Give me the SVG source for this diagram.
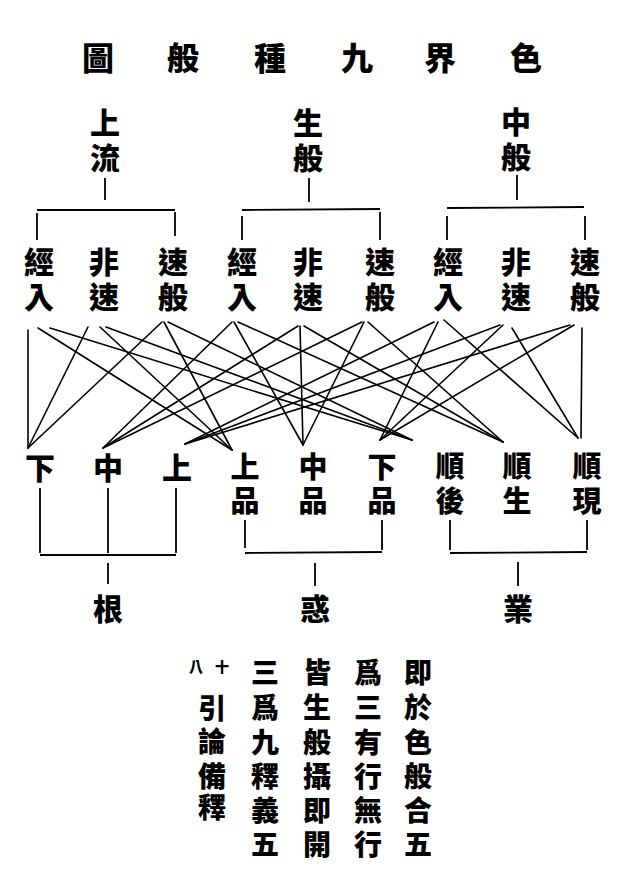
<svg xmlns="http://www.w3.org/2000/svg" width="621" height="882" viewBox="0 0 621 882">
<style>
text{font-family:"Noto Sans CJK TC","Noto Sans CJK SC",sans-serif;font-weight:900;fill:#000;text-anchor:middle}
.t{font-size:32px}
.l{font-size:30px}
.m{font-size:29px}
.v{font-size:28px}
.s{font-size:14px}
.c line{stroke:#000;stroke-width:1.6;stroke-linecap:round}
.b line{stroke:#000;stroke-width:1.8}
</style>
<rect width="621" height="882" fill="#fff"/>
<g id="title" class="t">
<text x="98" y="70">圖</text><text x="183" y="70">般</text><text x="270" y="70">種</text><text x="357" y="70">九</text><text x="440" y="70">界</text><text x="526" y="70">色</text>
</g>
<g id="shangliu" class="l"><text x="105" y="134">上</text><text x="105" y="169">流</text></g>
<g id="shengban" class="l"><text x="308" y="134">生</text><text x="308" y="169">般</text></g>
<g id="zhongban" class="l"><text x="516" y="133">中</text><text x="516" y="168">般</text></g>
<g id="t1" class="l"><text x="39" y="273">經</text><text x="39" y="308">入</text></g>
<g id="t2" class="l"><text x="104" y="273">非</text><text x="104" y="308">速</text></g>
<g id="t3" class="l"><text x="173" y="273">速</text><text x="173" y="308">般</text></g>
<g id="t4" class="l"><text x="242" y="273">經</text><text x="242" y="308">入</text></g>
<g id="t5" class="l"><text x="308" y="273">非</text><text x="308" y="308">速</text></g>
<g id="t6" class="l"><text x="380" y="273">速</text><text x="380" y="308">般</text></g>
<g id="t7" class="l"><text x="448" y="273">經</text><text x="448" y="308">入</text></g>
<g id="t8" class="l"><text x="516" y="273">非</text><text x="516" y="308">速</text></g>
<g id="t9" class="l"><text x="585" y="273">速</text><text x="585" y="308">般</text></g>
<g id="b1" class="l"><text x="40" y="479">下</text></g>
<g id="b2" class="l"><text x="108" y="479">中</text></g>
<g id="b3" class="l"><text x="177" y="479">上</text></g>
<g id="b4" class="m"><text x="245" y="478">上</text><text x="245" y="512">品</text></g>
<g id="b5" class="m"><text x="313" y="478">中</text><text x="313" y="512">品</text></g>
<g id="b6" class="m"><text x="382" y="478">下</text><text x="382" y="512">品</text></g>
<g id="b7" class="m"><text x="450" y="477">順</text><text x="450" y="512">後</text></g>
<g id="b8" class="m"><text x="517" y="477">順</text><text x="517" y="512">生</text></g>
<g id="b9" class="m"><text x="587" y="477">順</text><text x="587" y="512">現</text></g>
<g id="gen" class="l"><text x="108" y="620">根</text></g>
<g id="huo" class="l"><text x="315" y="620">惑</text></g>
<g id="ye" class="l"><text x="518" y="620">業</text></g>
<g id="note" class="v">
<text x="418" y="683">即</text><text x="418" y="718">於</text><text x="418" y="753">色</text><text x="418" y="787">般</text><text x="418" y="821">合</text><text x="418" y="855">五</text>
<text x="368" y="683">爲</text><text x="368" y="718">三</text><text x="368" y="753">有</text><text x="368" y="787">行</text><text x="368" y="821">無</text><text x="368" y="855">行</text>
<text x="317" y="683">皆</text><text x="317" y="718">生</text><text x="317" y="753">般</text><text x="317" y="787">攝</text><text x="317" y="821">即</text><text x="317" y="855">開</text>
<text x="265" y="683">三</text><text x="265" y="718">爲</text><text x="265" y="753">九</text><text x="265" y="787">釋</text><text x="265" y="821">義</text><text x="265" y="855">五</text>
<text class="s" x="222" y="672">十</text><text class="s" x="196" y="672">八</text>
<text x="212" y="719">引</text><text x="212" y="752">論</text><text x="212" y="787">備</text><text x="212" y="818">釋</text>
</g>
<g id="connectors">
<g class="b">
<line x1="105" y1="178" x2="105" y2="200"/>
<line x1="37" y1="210" x2="175" y2="210"/>
<line x1="37" y1="213" x2="37" y2="240"/>
<line x1="175" y1="212" x2="175" y2="236"/>
<line x1="309" y1="178" x2="309" y2="202"/>
<line x1="242" y1="210" x2="380" y2="209"/>
<line x1="242" y1="216" x2="242" y2="240"/>
<line x1="380" y1="212" x2="380" y2="240"/>
<line x1="517" y1="175" x2="517" y2="200"/>
<line x1="447" y1="208" x2="584" y2="207"/>
<line x1="447" y1="216" x2="447" y2="240"/>
<line x1="585" y1="216" x2="585" y2="240"/>
<line x1="40" y1="488" x2="40" y2="553"/>
<line x1="108" y1="488" x2="108" y2="553"/>
<line x1="176" y1="488" x2="176" y2="553"/>
<line x1="40" y1="555" x2="176" y2="555"/>
<line x1="108" y1="563" x2="108" y2="584"/>
<line x1="245" y1="520" x2="245" y2="548"/>
<line x1="382" y1="520" x2="382" y2="550"/>
<line x1="245" y1="553" x2="382" y2="552"/>
<line x1="315" y1="563" x2="315" y2="586"/>
<line x1="450" y1="520" x2="450" y2="550"/>
<line x1="587" y1="520" x2="587" y2="550"/>
<line x1="450" y1="553" x2="587" y2="552"/>
<line x1="518" y1="562" x2="518" y2="586"/>
</g>
<g class="c">
<line x1="28" y1="330" x2="28" y2="448"/>
<line x1="38" y1="328" x2="232" y2="450"/>
<line x1="50" y1="328" x2="412" y2="440"/>
<line x1="88" y1="327" x2="28" y2="448"/>
<line x1="100" y1="327" x2="232" y2="450"/>
<line x1="106" y1="327" x2="412" y2="440"/>
<line x1="162" y1="322" x2="28" y2="448"/>
<line x1="164" y1="322" x2="232" y2="450"/>
<line x1="168" y1="322" x2="412" y2="440"/>
<line x1="232" y1="322" x2="103" y2="448"/>
<line x1="234" y1="322" x2="303" y2="445"/>
<line x1="238" y1="322" x2="503" y2="442"/>
<line x1="298" y1="326" x2="103" y2="448"/>
<line x1="300" y1="326" x2="303" y2="445"/>
<line x1="304" y1="326" x2="503" y2="442"/>
<line x1="362" y1="322" x2="103" y2="448"/>
<line x1="364" y1="322" x2="303" y2="445"/>
<line x1="368" y1="322" x2="503" y2="442"/>
<line x1="434" y1="322" x2="185" y2="444"/>
<line x1="438" y1="322" x2="380" y2="440"/>
<line x1="444" y1="320" x2="578" y2="438"/>
<line x1="500" y1="325" x2="185" y2="444"/>
<line x1="503" y1="325" x2="380" y2="440"/>
<line x1="512" y1="328" x2="578" y2="438"/>
<line x1="570" y1="325" x2="185" y2="444"/>
<line x1="574" y1="325" x2="380" y2="440"/>
<line x1="582" y1="328" x2="581" y2="438"/>
</g>
</g>
</svg>
